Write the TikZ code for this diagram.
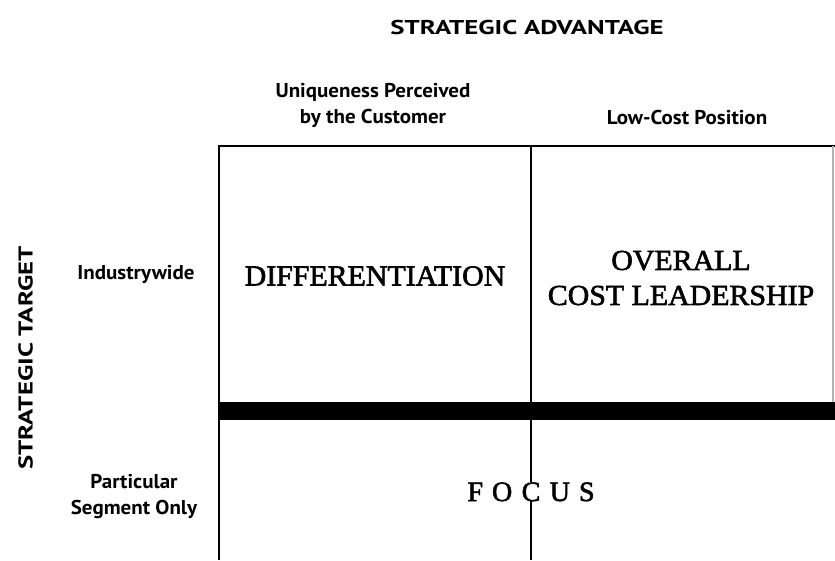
\documentclass[tikz,border=0pt]{standalone}
\usepackage{fontspec}
\setmainfont{Liberation Serif}
\newfontfamily\cellfont{Liberation Serif}[FakeBold=2]
\newfontfamily\labelfont{PT Sans Bold}
\begin{document}
\begin{tikzpicture}[x=1pt,y=-1pt,
  frame/.style={line width=2.4pt,black},
  bar/.style={line width=18pt,black},
  faint/.style={line width=1.2pt,black!30},
  axisfont/.style={font=\labelfont\fontsize{20}{24}\selectfont,inner sep=0pt},
  side/.style={font=\labelfont\fontsize{20}{26}\selectfont,align=center,inner sep=0pt,xscale=1.05},
  cell/.style={font=\cellfont\fontsize{29}{35}\selectfont,align=center,inner sep=0pt,xscale=1.03},
  letter/.style={font=\cellfont\fontsize{28}{32}\selectfont,inner sep=0pt,anchor=base}]
\useasboundingbox (0,0) rectangle (835,560);
\fill[white] (0,0) rectangle (835,560);

% grid corners
\coordinate (tl) at (219,146);
\coordinate (tm) at (531,146);
\coordinate (tr) at (835,146);
\coordinate (bl) at (219,560);
\coordinate (bm) at (531,560);
\coordinate (barl) at (218,411);
\coordinate (barm) at (531,411);
\coordinate (barr) at (835,411);
\coordinate (rt) at (833,146);
\coordinate (rb) at (833,402);

% headings
\node[axisfont,xscale=1.34] (adv) at (527,27) {STRATEGIC ADVANTAGE};
\node[axisfont,rotate=90,xscale=1.34] (targ) at (25.5,358) {STRATEGIC TARGET};
\node[side] (uniq) at (373,105) {Uniqueness Perceived\\by the Customer};
\node[side,anchor=base] (lowc) at (687,124) {Low-Cost Position};
\node[side,anchor=base] (ind) at (136,279) {Industrywide};
\node[side] (seg) at (134,497) {Particular\\Segment Only};

% cell labels
\node[cell] (diff) at (375,276) {DIFFERENTIATION};
\node[cell] (ocl) at (681,278) {OVERALL\\COST LEADERSHIP};

% spaced-out FOCUS, centred on the middle rule
\node[letter] (fc) at (531,501) {C};
\node[letter,anchor=base east] (fo) at ([xshift=-9pt]fc.base west) {F\hspace{9pt}O};
\node[letter,anchor=base west] (fu) at ([xshift=9pt]fc.base east) {U\hspace{9pt}S};

% frame and rules
\draw[frame] (bl) -- (tl) -- (tr);
\draw[frame] (tm) -- (barm);
\draw[frame] (barm) -- (fc.north);
\draw[frame] (fc.south) -- (bm);
\draw[faint] (rt) -- (rb);
\draw[bar] (barl) -- (barr);
\end{tikzpicture}
\end{document}
